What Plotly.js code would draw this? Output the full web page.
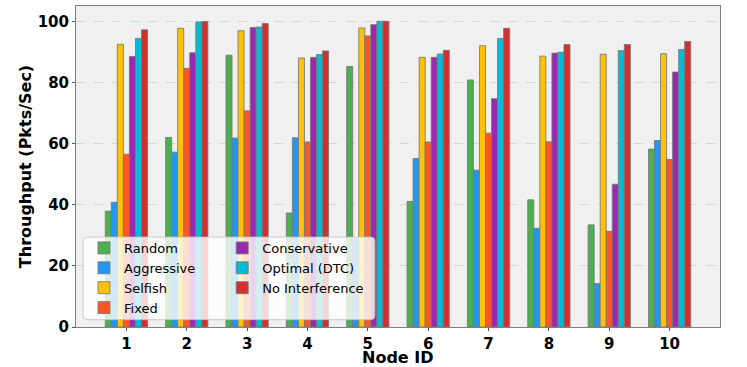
<!DOCTYPE html>
<html>
<head>
<meta charset="utf-8">
<script src="https://cdn.plot.ly/plotly-3.0.1.min.js"></script>
<style>html,body{margin:0;padding:0;background:#fff;}#chart{width:747px;height:367px;}</style>
</head>
<body>
<div id="chart"></div>
<script>
const nodeIds = [1, 2, 3, 4, 5, 6, 7, 8, 9, 10];
const seriesNames = ['Random', 'Aggressive', 'Selfish', 'Fixed', 'Conservative', 'Optimal (DTC)', 'No Interference'];
const random       = [37.9, 62.0, 88.9, 37.3, 85.2, 41.1, 80.8, 41.6, 33.4, 58.2];
const aggressive   = [40.8, 57.2, 61.8, 61.9, 29.0, 55.1, 51.3, 32.3, 14.2, 61.0];
const selfish      = [92.5, 97.7, 96.9, 88.0, 97.8, 88.2, 92.0, 88.6, 89.2, 89.4];
const fixed        = [56.5, 84.6, 70.7, 60.5, 95.2, 60.5, 63.4, 60.6, 31.3, 54.8];
const conservative = [88.5, 89.7, 98.0, 88.2, 98.9, 88.2, 74.7, 89.6, 46.7, 83.4];
const optimalDTC   = [94.4, 99.8, 98.1, 89.1, 100.0, 89.3, 94.4, 89.9, 90.4, 90.8];
const noInterf     = [97.2, 99.9, 99.3, 90.3, 100.0, 90.5, 97.7, 92.4, 92.4, 93.4];
const seriesValues = [random, aggressive, selfish, fixed, conservative, optimalDTC, noInterf];
const colors = ['#4CAF50', '#2196F3', '#FFC107', '#FF5722', '#9C27B0', '#00BCD4', '#D32F2F'];
const legendOf = ['legend', 'legend', 'legend', 'legend', 'legend2', 'legend2', 'legend2'];
const xTitle = 'Node ID';
const yTitle = 'Throughput (Pkts/Sec)';

const traces = seriesNames.map((name, i) => ({
  type: 'bar',
  name: name,
  x: nodeIds,
  y: seriesValues[i],
  legend: legendOf[i],
  marker: {color: colors[i], line: {color: 'rgba(120,120,120,0.85)', width: 1}},
  hoverinfo: 'skip'
}));

const bold = {family: 'DejaVu Sans', size: 15, color: '#000', weight: 'bold'};
const titleFont = {family: 'DejaVu Sans', size: 16, color: '#000', weight: 'bold'};
const legFont = {family: 'DejaVu Sans', size: 13, color: '#000'};

// rounded legend background (paper coords)
const x0 = 0.011, x1 = 0.464, y0 = 0.023, y1 = 0.280, rx = 0.006, ry = 0.012;
const bgPath = `M${x0+rx},${y0} L${x1-rx},${y0} Q${x1},${y0} ${x1},${y0+ry} L${x1},${y1-ry} Q${x1},${y1} ${x1-rx},${y1} L${x0+rx},${y1} Q${x0},${y1} ${x0},${y1-ry} L${x0},${y0+ry} Q${x0},${y0} ${x0+rx},${y0} Z`;

const layout = {
  width: 747, height: 367,
  margin: {l: 76, r: 27, t: 6, b: 40},
  paper_bgcolor: '#ffffff',
  plot_bgcolor: '#f0f0f0',
  barmode: 'group',
  bargap: 0.3,
  bargroupgap: 0,
  showlegend: true,
  xaxis: {
    range: [0.165, 10.835],
    tickmode: 'array', tickvals: nodeIds, ticktext: nodeIds.map(String),
    tickfont: bold,
    ticks: 'outside', ticklen: 3, tickcolor: '#555',
    showgrid: false, zeroline: false,
    showline: true, mirror: true, linecolor: '#808080', linewidth: 1
  },
  yaxis: {
    range: [0, 105],
    tickmode: 'array', tickvals: [0, 20, 40, 60, 80, 100],
    tickfont: bold,
    ticks: 'outside', ticklen: 3, tickcolor: '#555',
    showgrid: true, gridcolor: '#cfcfcf', griddash: 'dash', gridwidth: 0.8,
    zeroline: false,
    showline: true, mirror: true, linecolor: '#808080', linewidth: 1,
    title: {text: yTitle, font: titleFont, standoff: 2}
  },
  annotations: [{
    text: xTitle, xref: 'paper', yref: 'paper', x: 0.5, y: -0.0945,
    xanchor: 'center', yanchor: 'middle', showarrow: false, font: titleFont,
    borderpad: 0
  }],
  legend: {
    x: 0.0124, y: 0.293, xanchor: 'left', yanchor: 'top',
    bgcolor: 'rgba(0,0,0,0)', borderwidth: 0,
    font: legFont, orientation: 'v', traceorder: 'normal', tracegroupgap: 0
  },
  legend2: {
    x: 0.227, y: 0.293, xanchor: 'left', yanchor: 'top',
    bgcolor: 'rgba(0,0,0,0)', borderwidth: 0,
    font: legFont, orientation: 'v', traceorder: 'normal', tracegroupgap: 0
  },
  shapes: [{
    type: 'path', xref: 'paper', yref: 'paper', layer: 'above',
    path: bgPath,
    fillcolor: 'rgba(255,255,255,0.8)',
    line: {color: 'rgba(200,200,200,0.9)', width: 1}
  }]
};

Plotly.newPlot('chart', traces, layout, {displayModeBar: false, staticPlot: true});
</script>
</body>
</html>
